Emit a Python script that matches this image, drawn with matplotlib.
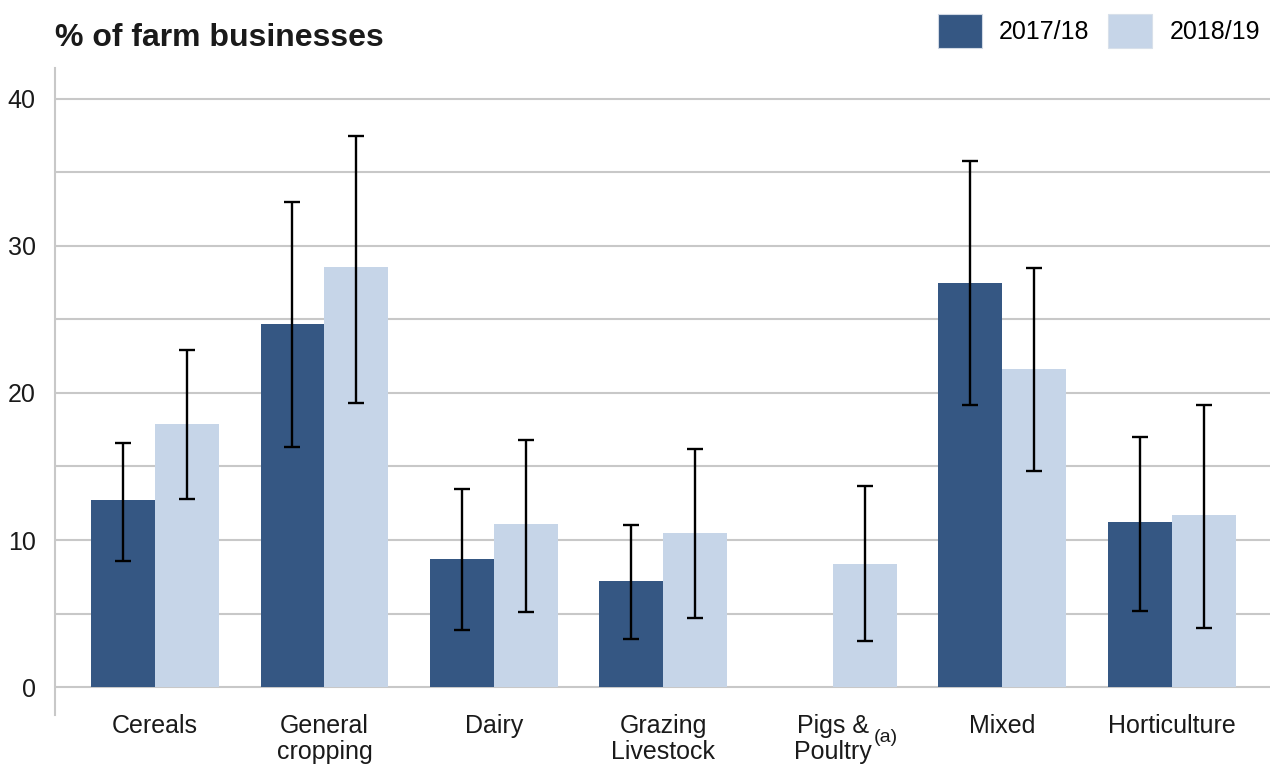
import numpy as np
import matplotlib
matplotlib.use("Agg")
import matplotlib.pyplot as plt
from matplotlib.patches import Patch

plt.rcParams['font.family'] = ['Liberation Sans', 'DejaVu Sans']

# farm types and the two survey years
categories = ['Cereals', 'General\ncropping', 'Dairy', 'Grazing\nLivestock',
              'Pigs &\nPoultry', 'Mixed', 'Horticulture']
years = ['2017/18', '2018/19']

# % of farm businesses, with lower / upper confidence limits
val_1718 = [12.7, 24.7, 8.7, 7.2, np.nan, 27.5, 11.2]
low_1718 = [8.6, 16.3, 3.9, 3.3, np.nan, 19.2, 5.2]
high_1718 = [16.6, 33.0, 13.5, 11.0, np.nan, 35.8, 17.0]

val_1819 = [17.9, 28.6, 11.1, 10.5, 8.4, 21.6, 11.7]
low_1819 = [12.8, 19.3, 5.1, 4.7, 3.1, 14.7, 4.0]
high_1819 = [22.9, 37.5, 16.8, 16.2, 13.7, 28.5, 19.2]

dark = '#355783'
light = '#c6d5e8'
txt = '#1a1a1a'

fig = plt.figure(figsize=(12.75, 7.67), dpi=100)
ax = fig.add_axes([55/1275, 52/767, 1215/1275, 647/767])

x = np.arange(len(categories))
w = 0.377

def draw(vals, lows, highs, offset, color):
    vals = np.array(vals, dtype=float)
    lows = np.array(lows, dtype=float)
    highs = np.array(highs, dtype=float)
    ok = ~np.isnan(vals)
    ax.bar(x[ok] + offset, vals[ok], width=w, color=color, zorder=2)
    err = np.vstack([vals[ok] - lows[ok], highs[ok] - vals[ok]])
    ax.errorbar(x[ok] + offset, vals[ok], yerr=err, fmt='none', ecolor='black',
                elinewidth=1.7, capsize=6, capthick=1.7, zorder=3)

draw(val_1718, low_1718, high_1718, -w/2, dark)
draw(val_1819, low_1819, high_1819, w/2, light)

ax.set_xlim(-0.59, 6.58)
ax.set_ylim(-1.9, 42.1)
ax.set_yticks([0, 10, 20, 30, 40])
ax.set_yticks(np.arange(0, 41, 5), minor=True)
ax.yaxis.grid(True, which='both', color='#c8c8c8', linewidth=1.5, zorder=0)
ax.set_axisbelow(True)
ax.tick_params(axis='y', which='both', length=0, pad=14, labelsize=18, labelcolor=txt)
ax.set_xticks(x)
ax.set_xticklabels(categories, fontsize=18, color=txt, linespacing=1.1)
ax.tick_params(axis='x', length=0, pad=-1)

for s in ['top', 'right', 'bottom']:
    ax.spines[s].set_visible(False)
ax.spines['left'].set_color('#c8c8c8')
ax.spines['left'].set_linewidth(1.5)

# footnote marker on the pigs & poultry label
fig.text(874/1275, 1 - 738/767, '(a)', fontsize=14, color=txt, va='center')

fig.text(55/1275, 1 - 38/767, '% of farm businesses', fontsize=23,
         fontweight='bold', color=txt, va='center')

handles = [Patch(facecolor=dark, edgecolor='#d0d8e4', linewidth=0.8),
           Patch(facecolor=light, edgecolor='#d8e0ea', linewidth=0.8)]
fig.legend(handles, years, loc='center right', bbox_to_anchor=(1260/1275, 1 - 31/767),
           ncol=2, frameon=False, fontsize=18, handlelength=1.75, handleheight=1.75,
           handletextpad=0.7, columnspacing=0.75, borderaxespad=0, borderpad=0)

fig.savefig('out.png', dpi=100)
